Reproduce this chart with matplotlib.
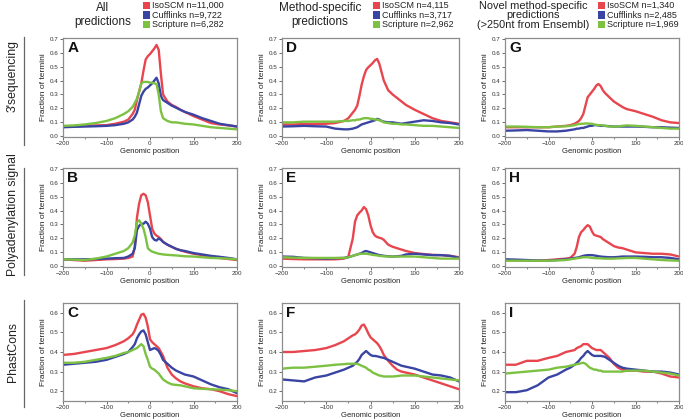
import matplotlib
matplotlib.use("Agg")
import matplotlib.pyplot as plt
from matplotlib.patches import Rectangle
from matplotlib.lines import Line2D

plt.rcParams['font.family'] = ['Liberation Sans', 'DejaVu Sans']

# Genomic positions (nt relative to predicted terminus)
positions = [-200, -175, -150, -125, -100, -80, -60, -50, -40, -35, -30, -25, -20, -15,
             -10, -5, 0, 5, 10, 15, 20, 25, 30, 40, 50, 60, 70, 80, 100, 120, 140, 160, 180, 200]

methods = ["IsoSCM", "Cufflinks", "Scripture"]
colors = ["#e8464f", "#3a45a3", "#7cc142"]

col_titles = ["All\npredictions", "Method-specific\npredictions",
              "Novel method-specific\npredictions\n(>250nt from Ensembl)"]
row_titles = ["3'sequencing", "Polyadenylation signal", "PhastCons"]
panel_letters = [["A", "D", "G"], ["B", "E", "H"], ["C", "F", "I"]]

counts_all = ["11,000", "9,722", "6,282"]
counts_specific = ["4,115", "3,717", "2,962"]
counts_novel = ["1,340", "2,485", "1,969"]

# ---- 3' sequencing ----
A_iso = [.07, .072, .075, .078, .08, .09, .105, .12, .16, .19, .26, .32, .38, .47, .55, .575, .59, .61, .63, .655,
         .62, .45, .30, .25, .225, .21, .19, .175, .145, .12, .095, .085, .078, .07]
A_cuf = [.065, .068, .07, .072, .075, .08, .09, .10, .12, .14, .17, .23, .29, .32, .34, .35, .365, .38, .40, .42,
         .38, .29, .26, .24, .22, .205, .19, .175, .155, .13, .11, .09, .08, .07]
A_scr = [.075, .078, .085, .095, .11, .13, .16, .18, .21, .24, .27, .32, .38, .39, .39, .39, .385, .385, .38, .375,
         .30, .18, .13, .11, .10, .10, .095, .09, .085, .075, .065, .06, .055, .05]

D_iso = [.085, .085, .088, .088, .09, .095, .11, .13, .17, .19, .22, .29, .37, .43, .475, .495, .51, .525, .545, .555,
         .52, .46, .40, .33, .30, .275, .25, .225, .19, .16, .13, .11, .10, .09]
D_cuf = [.07, .072, .075, .072, .07, .055, .05, .05, .055, .06, .065, .075, .085, .09, .095, .10, .105, .11, .115, .125,
         .12, .11, .105, .10, .10, .095, .09, .095, .105, .115, .11, .10, .095, .085]
D_scr = [.10, .10, .105, .105, .105, .105, .11, .11, .115, .115, .12, .12, .125, .13, .13, .13, .125, .125, .12, .12,
         .115, .11, .10, .095, .09, .09, .085, .085, .08, .075, .075, .07, .065, .06]

G_iso = [.065, .065, .065, .065, .065, .07, .075, .08, .09, .10, .11, .13, .16, .22, .28, .30, .32, .34, .365, .375,
         .36, .33, .31, .28, .25, .23, .21, .195, .18, .16, .14, .115, .10, .095]
G_cuf = [.04, .042, .045, .04, .035, .035, .04, .045, .05, .055, .055, .06, .06, .065, .07, .075, .075, .08, .08, .078,
         .075, .075, .075, .072, .07, .07, .07, .07, .07, .068, .065, .065, .062, .06]
G_scr = [.07, .07, .068, .065, .065, .07, .072, .075, .08, .085, .088, .09, .09, .092, .092, .09, .09, .085, .082, .08,
         .08, .078, .075, .07, .07, .07, .075, .078, .075, .07, .065, .06, .055, .055]

# ---- Polyadenylation signal ----
B_iso = [.05, .045, .04, .045, .05, .052, .055, .06, .07, .14, .35, .45, .51, .52, .51, .46, .365, .27, .235, .22,
         .21, .195, .175, .155, .14, .125, .115, .105, .09, .08, .068, .06, .052, .045]
B_cuf = [.05, .05, .05, .052, .055, .058, .06, .07, .09, .13, .26, .29, .305, .305, .32, .305, .27, .21, .19, .185,
         .20, .19, .175, .155, .14, .125, .115, .11, .095, .085, .075, .068, .06, .05]
B_scr = [.05, .048, .045, .055, .07, .09, .11, .13, .17, .22, .315, .33, .305, .27, .21, .13, .115, .105, .10, .095,
         .09, .088, .085, .082, .08, .078, .075, .072, .07, .065, .06, .058, .055, .05]

E_iso = [.055, .052, .05, .05, .05, .05, .055, .07, .20, .32, .365, .385, .40, .425, .41, .365, .295, .245, .22, .21,
         .205, .20, .19, .155, .14, .13, .12, .11, .095, .088, .082, .08, .075, .065]
E_cuf = [.07, .068, .06, .058, .055, .058, .06, .065, .075, .08, .085, .09, .095, .105, .11, .105, .10, .095, .09, .085,
         .08, .078, .075, .072, .07, .072, .075, .085, .09, .085, .08, .08, .075, .06]
E_scr = [.065, .062, .06, .06, .06, .06, .06, .065, .075, .08, .085, .088, .09, .09, .09, .088, .085, .082, .08, .078,
         .075, .073, .072, .07, .07, .07, .07, .07, .07, .065, .06, .055, .055, .055]

H_iso = [.045, .042, .04, .04, .045, .05, .055, .06, .09, .14, .21, .245, .26, .28, .295, .285, .25, .225, .22, .215,
         .21, .195, .185, .165, .145, .135, .13, .12, .10, .095, .09, .09, .085, .07]
H_cuf = [.05, .048, .045, .042, .04, .045, .05, .055, .06, .062, .065, .07, .075, .078, .08, .08, .08, .078, .075, .072,
         .07, .068, .067, .065, .065, .067, .07, .07, .07, .068, .065, .065, .06, .05]
H_scr = [.04, .04, .04, .04, .04, .042, .045, .05, .055, .058, .06, .062, .065, .065, .065, .063, .06, .06, .058, .058,
         .057, .056, .055, .055, .055, .057, .058, .06, .06, .055, .05, .045, .042, .04]

# ---- PhastCons ----
C_iso = [.385, .39, .40, .41, .42, .435, .455, .47, .49, .51, .54, .565, .59, .595, .575, .53, .465, .45, .44, .43,
         .42, .40, .38, .32, .285, .265, .25, .24, .225, .215, .21, .20, .185, .175]
C_cuf = [.335, .34, .345, .35, .36, .375, .39, .40, .425, .44, .47, .49, .505, .51, .49, .45, .41, .415, .42, .415,
         .405, .385, .36, .34, .32, .305, .295, .285, .275, .255, .235, .22, .21, .19]
C_scr = [.345, .345, .35, .36, .37, .38, .395, .40, .41, .415, .42, .43, .44, .43, .39, .36, .325, .315, .31, .30,
         .29, .275, .26, .245, .235, .232, .23, .225, .215, .212, .21, .208, .205, .20]

F_iso = [.40, .40, .405, .41, .42, .435, .455, .47, .485, .49, .50, .515, .535, .54, .52, .495, .475, .465, .455, .445,
         .43, .41, .385, .355, .33, .31, .30, .295, .285, .27, .255, .24, .225, .21]
F_cuf = [.26, .255, .25, .27, .28, .295, .31, .32, .33, .34, .35, .365, .385, .395, .405, .395, .385, .38, .38, .378,
         .375, .372, .37, .36, .35, .34, .33, .325, .315, .30, .285, .28, .27, .25]
F_scr = [.315, .32, .32, .325, .33, .335, .338, .34, .34, .34, .34, .335, .33, .325, .32, .31, .305, .295, .29, .285,
         .28, .278, .275, .275, .275, .277, .28, .28, .28, .275, .27, .265, .26, .255]

I_iso = [.335, .335, .355, .355, .37, .38, .40, .405, .41, .42, .425, .43, .44, .44, .44, .43, .42, .415, .41, .41,
         .41, .40, .39, .37, .34, .32, .31, .305, .305, .30, .30, .29, .275, .27]
I_cuf = [.195, .195, .205, .23, .27, .285, .31, .32, .335, .345, .355, .37, .38, .395, .405, .395, .385, .38, .38, .38,
         .38, .378, .375, .36, .345, .33, .32, .315, .31, .305, .30, .30, .295, .285]
I_scr = [.29, .295, .30, .305, .31, .32, .325, .33, .335, .338, .34, .343, .345, .34, .33, .32, .315, .31, .31, .305,
         .305, .30, .30, .30, .30, .30, .30, .305, .305, .305, .30, .295, .29, .28]

panels = [[(A_iso, A_cuf, A_scr), (D_iso, D_cuf, D_scr), (G_iso, G_cuf, G_scr)],
          [(B_iso, B_cuf, B_scr), (E_iso, E_cuf, E_scr), (H_iso, H_cuf, H_scr)],
          [(C_iso, C_cuf, C_scr), (F_iso, F_cuf, F_scr), (I_iso, I_cuf, I_scr)]]
col_counts = [counts_all, counts_specific, counts_novel]

W, H = 683, 420
fig = plt.figure(figsize=(W / 100, H / 100), dpi=100)

col_x = [(63, 237), (282, 459), (505, 679)]
row_y = [(38, 137), (168, 267), (303, 401)]

def fx(px):
    return px / W

def fy(py):
    return 1 - py / H

spine_c = "#8c8c8c"
for r in range(3):
    for c in range(3):
        x0, x1 = col_x[c]
        y0, y1 = row_y[r]
        ax = fig.add_axes([fx(x0), fy(y1), fx(x1 - x0), (y1 - y0) / H])
        for series, col in zip(panels[r][c], colors):
            ax.plot(positions, series, color=col, lw=1.7, solid_joinstyle='round')
        ax.set_xlim(-200, 200)
        if r < 2:
            ax.set_ylim(-0.005, 0.705)
            ax.set_yticks([0.0, 0.1, 0.2, 0.3, 0.4, 0.5, 0.6, 0.7])
            ax.set_yticklabels(["0.0", "0.1", "0.2", "0.3", "0.4", "0.5", "0.6", "0.7"])
        else:
            ax.set_ylim(0.15, 0.65)
            ax.set_yticks([0.2, 0.3, 0.4, 0.5, 0.6])
            ax.set_yticklabels(["0.2", "0.3", "0.4", "0.5", "0.6"])
        ax.set_xticks([-200, -100, 0, 100, 200])
        ax.set_xticks([-150, -50, 50, 150], minor=True)
        ax.tick_params(axis='both', labelsize=4.5, length=2, width=0.6, pad=1.2,
                       colors="#555555", labelcolor="#333333")
        ax.tick_params(axis='x', which='minor', length=1.5, width=0.5, colors="#555555")
        for s in ax.spines.values():
            s.set_color(spine_c)
            s.set_linewidth(0.9)
        ax.set_xlabel("Genomic position", fontsize=5.5, labelpad=0.8, color="#222222")
        ax.set_ylabel("Fraction of termini", fontsize=6, labelpad=2, color="#222222")
        ax.text(0.025, 0.965, panel_letters[r][c], transform=ax.transAxes, fontsize=11,
                fontweight='bold', va='top', ha='left', color="#111111")

# Row titles and separators
row_label_y = [76, 215, 352]
row_line = [(37, 145), (168, 275), (300, 407)]
for r in range(3):
    fig.text(fx(13), fy(row_label_y[r]), row_titles[r], rotation=90, fontsize=8.8,
             ha='center', va='center', color="#222222")
    fig.add_artist(Line2D([fx(24), fx(24)], [fy(row_line[r][0]), fy(row_line[r][1])],
                          color="#666666", lw=0.9))

# Column titles
title_x = [103, 320, 533]
title_y = [15, 15, 15.5]
title_size = [8.5, 8.5, 7.9]
title_spacing = [1.3, 1.3, 0.95]
for c in range(3):
    fig.text(fx(title_x[c]), fy(title_y[c]), col_titles[c], fontsize=title_size[c],
             ha='center', va='center', color="#222222", linespacing=title_spacing[c])

# Legends
leg_x = [143, 373, 598]
leg_y = [5.5, 15, 24.5]
for c in range(3):
    for i in range(3):
        fig.add_artist(Rectangle((fx(leg_x[c]), fy(leg_y[i] + 3.5)), fx(7), 7 / H,
                                 facecolor=colors[i], edgecolor='none'))
        fig.text(fx(leg_x[c] + 9), fy(leg_y[i]), f"{methods[i]} n={col_counts[c][i]}",
                 fontsize=6.5, ha='left', va='center', color="#222222")

fig.savefig("out.png", dpi=100)
